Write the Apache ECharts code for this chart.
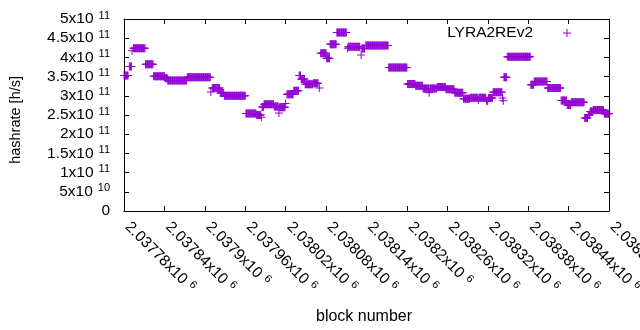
<!DOCTYPE html>
<html>
<head>
<meta charset="utf-8">
<script src="https://cdn.jsdelivr.net/npm/echarts@6/dist/echarts.min.js"></script>
<style>
html,body{margin:0;padding:0;background:#fff;}
#chart{width:640px;height:330px;}
</style>
</head>
<body>
<div id="chart"></div>
<script>
// Runs of consecutive blocks sharing the same hashrate
const runStartBlock = [2037780,2037788,2037792,2037794,2037812,2037824,2037841,2037845,2037874,2037909,2037911,2037923,2037929,2037961,2037977,2037984,2037985,2037988,2038003,2038010,2038011,2038020,2038022,2038032,2038040,2038043,2038049,2038061,2038070,2038072,2038081,2038086,2038096,2038112,2038113,2038132,2038133,2038139,2038173,2038201,2038213,2038224,2038233,2038234,2038245,2038258,2038271,2038284,2038294,2038306,2038307,2038318,2038321,2038328,2038342,2038343,2038344,2038349,2038384,2038389,2038409,2038429,2038438,2038444,2038464,2038469,2038472,2038477,2038493];
const runEndBlock   = [2037786,2037791,2037792,2037811,2037823,2037840,2037844,2037873,2037908,2037909,2037922,2037928,2037960,2037976,2037983,2037984,2037987,2038002,2038009,2038010,2038019,2038020,2038031,2038039,2038042,2038048,2038060,2038068,2038070,2038080,2038085,2038095,2038110,2038112,2038130,2038132,2038137,2038172,2038200,2038212,2038223,2038232,2038233,2038244,2038257,2038270,2038283,2038293,2038305,2038306,2038317,2038320,2038327,2038341,2038342,2038343,2038348,2038383,2038388,2038408,2038428,2038437,2038443,2038463,2038468,2038471,2038476,2038492,2038500];
const runHashrate   = [3.53e11,3.76e11,4.17e11,4.24e11,3.82e11,3.51e11,3.46e11,3.40e11,3.48e11,3.10e11,3.20e11,3.07e11,3.00e11,2.54e11,2.50e11,2.44e11,2.71e11,2.78e11,2.72e11,2.55e11,2.70e11,2.80e11,3.04e11,3.13e11,3.53e11,3.44e11,3.30e11,3.33e11,3.20e11,4.11e11,3.98e11,4.34e11,4.65e11,4.24e11,4.28e11,4.06e11,4.23e11,4.31e11,3.74e11,3.31e11,3.26e11,3.19e11,3.08e11,3.19e11,3.23e11,3.17e11,3.08e11,2.92e11,2.95e11,2.89e11,2.95e11,2.87e11,2.94e11,3.09e11,2.94e11,2.87e11,3.48e11,4.02e11,3.29e11,3.37e11,3.20e11,2.88e11,2.76e11,2.83e11,2.42e11,2.50e11,2.59e11,2.63e11,2.53e11];

const seriesName = 'LYRA2REv2';
const xTickLabels = ['2.03778x10^{6}','2.03784x10^{6}','2.0379x10^{6}','2.03796x10^{6}','2.03802x10^{6}','2.03808x10^{6}','2.03814x10^{6}','2.0382x10^{6}','2.03826x10^{6}','2.03832x10^{6}','2.03838x10^{6}','2.03844x10^{6}','2.0385x10^{6}'];
const yTickLabels = ['0','5x10^{10}','1x10^{11}','1.5x10^{11}','2x10^{11}','2.5x10^{11}','3x10^{11}','3.5x10^{11}','4x10^{11}','4.5x10^{11}','5x10^{11}'];
const xMin = 2037780, xMax = 2038500, xStep = 60;
const yMin = 0, yMax = 5e11, yStep = 5e10;

// one point per block
const points = [];
for (let i = 0; i < runStartBlock.length; i++) {
  for (let b = runStartBlock[i]; b <= runEndBlock[i]; b++) points.push([b, runHashrate[i]]);
}

function toRich(s, main) {
  const m = s.match(/^(.*)\^\{(.*)\}$/);
  if (!m) return '{' + main + '|' + s + '}';
  return '{' + main + '|' + m[1] + '}{s|' + m[2] + '}';
}
const FONT = '"Liberation Sans", Arial, sans-serif';
const rich = {
  m: {fontFamily: FONT, fontSize: 15.5, color: '#000', lineHeight: 18},
  mx: {fontFamily: FONT, fontSize: 15.5, color: '#000', lineHeight: 18, padding: [0, 0, 0, 5]},
  s: {fontFamily: FONT, fontSize: 11, color: '#000', lineHeight: 6, verticalAlign: 'top', padding: [0, 0, 0, 5]}
};
const plus = 'path://M0,3.5H8V4.5H0Z M3.5,0H4.5V8H3.5Z';
const tickCommon = {show: true, inside: true, length: 5, lineStyle: {color: '#000', width: 1}};
const lineCommon = {show: true, onZero: false, lineStyle: {color: '#000', width: 1}};

const chart = echarts.init(document.getElementById('chart'), null, {renderer: 'canvas'});
chart.setOption({
  animation: false,
  backgroundColor: '#fff',
  grid: {left: 124, right: 31, top: 19, bottom: 119, containLabel: false, outerBoundsMode: 'none'},
  legend: {
    show: true, data: [{name: seriesName, icon: plus}], align: 'right',
    right: 64, top: 20, itemWidth: 58, itemHeight: 8, symbolKeepAspect: true,
    textStyle: {fontFamily: FONT, fontSize: 15.5, color: '#000'},
    selectedMode: false
  },
  xAxis: [
    {type: 'value', position: 'bottom', min: xMin, max: xMax, interval: xStep,
     axisLine: lineCommon, axisTick: tickCommon, splitLine: {show: false},
     axisLabel: {show: true, rotate: -45, margin: 10, rich: rich, hideOverlap: false,
       showMinLabel: true, showMaxLabel: true,
       formatter: v => toRich(xTickLabels[Math.round((v - xMin) / xStep)] || '', 'mx')}},
    {type: 'value', position: 'top', min: xMin, max: xMax, interval: xStep,
     axisLine: lineCommon, axisTick: tickCommon, splitLine: {show: false}, axisLabel: {show: false}}
  ],
  yAxis: [
    {type: 'value', position: 'left', min: yMin, max: yMax, interval: yStep,
     axisLine: lineCommon, axisTick: tickCommon, splitLine: {show: false},
     axisLabel: {show: true, margin: 14, rich: rich, hideOverlap: false,
       showMinLabel: true, showMaxLabel: true,
       formatter: v => toRich(yTickLabels[Math.round((v - yMin) / yStep)] || '', 'm')}},
    {type: 'value', position: 'right', min: yMin, max: yMax, interval: yStep,
     axisLine: lineCommon, axisTick: tickCommon, splitLine: {show: false}, axisLabel: {show: false}}
  ],
  graphic: [
    {type: 'text', left: 8, top: 76, rotation: Math.PI / 2,
     style: {text: 'hashrate [h/s]', font: '14.5px ' + FONT, fill: '#000'}},
    {type: 'text', left: 316, top: 309,
     style: {text: 'block number', font: '16px ' + FONT, fill: '#000'}}
  ],
  series: [{
    name: seriesName, type: 'scatter', data: points,
    symbol: plus, symbolSize: 8, clip: false, large: false,
    itemStyle: {color: '#9400d3', opacity: 1},
    emphasis: {disabled: true}
  }]
});
</script>
</body>
</html>
